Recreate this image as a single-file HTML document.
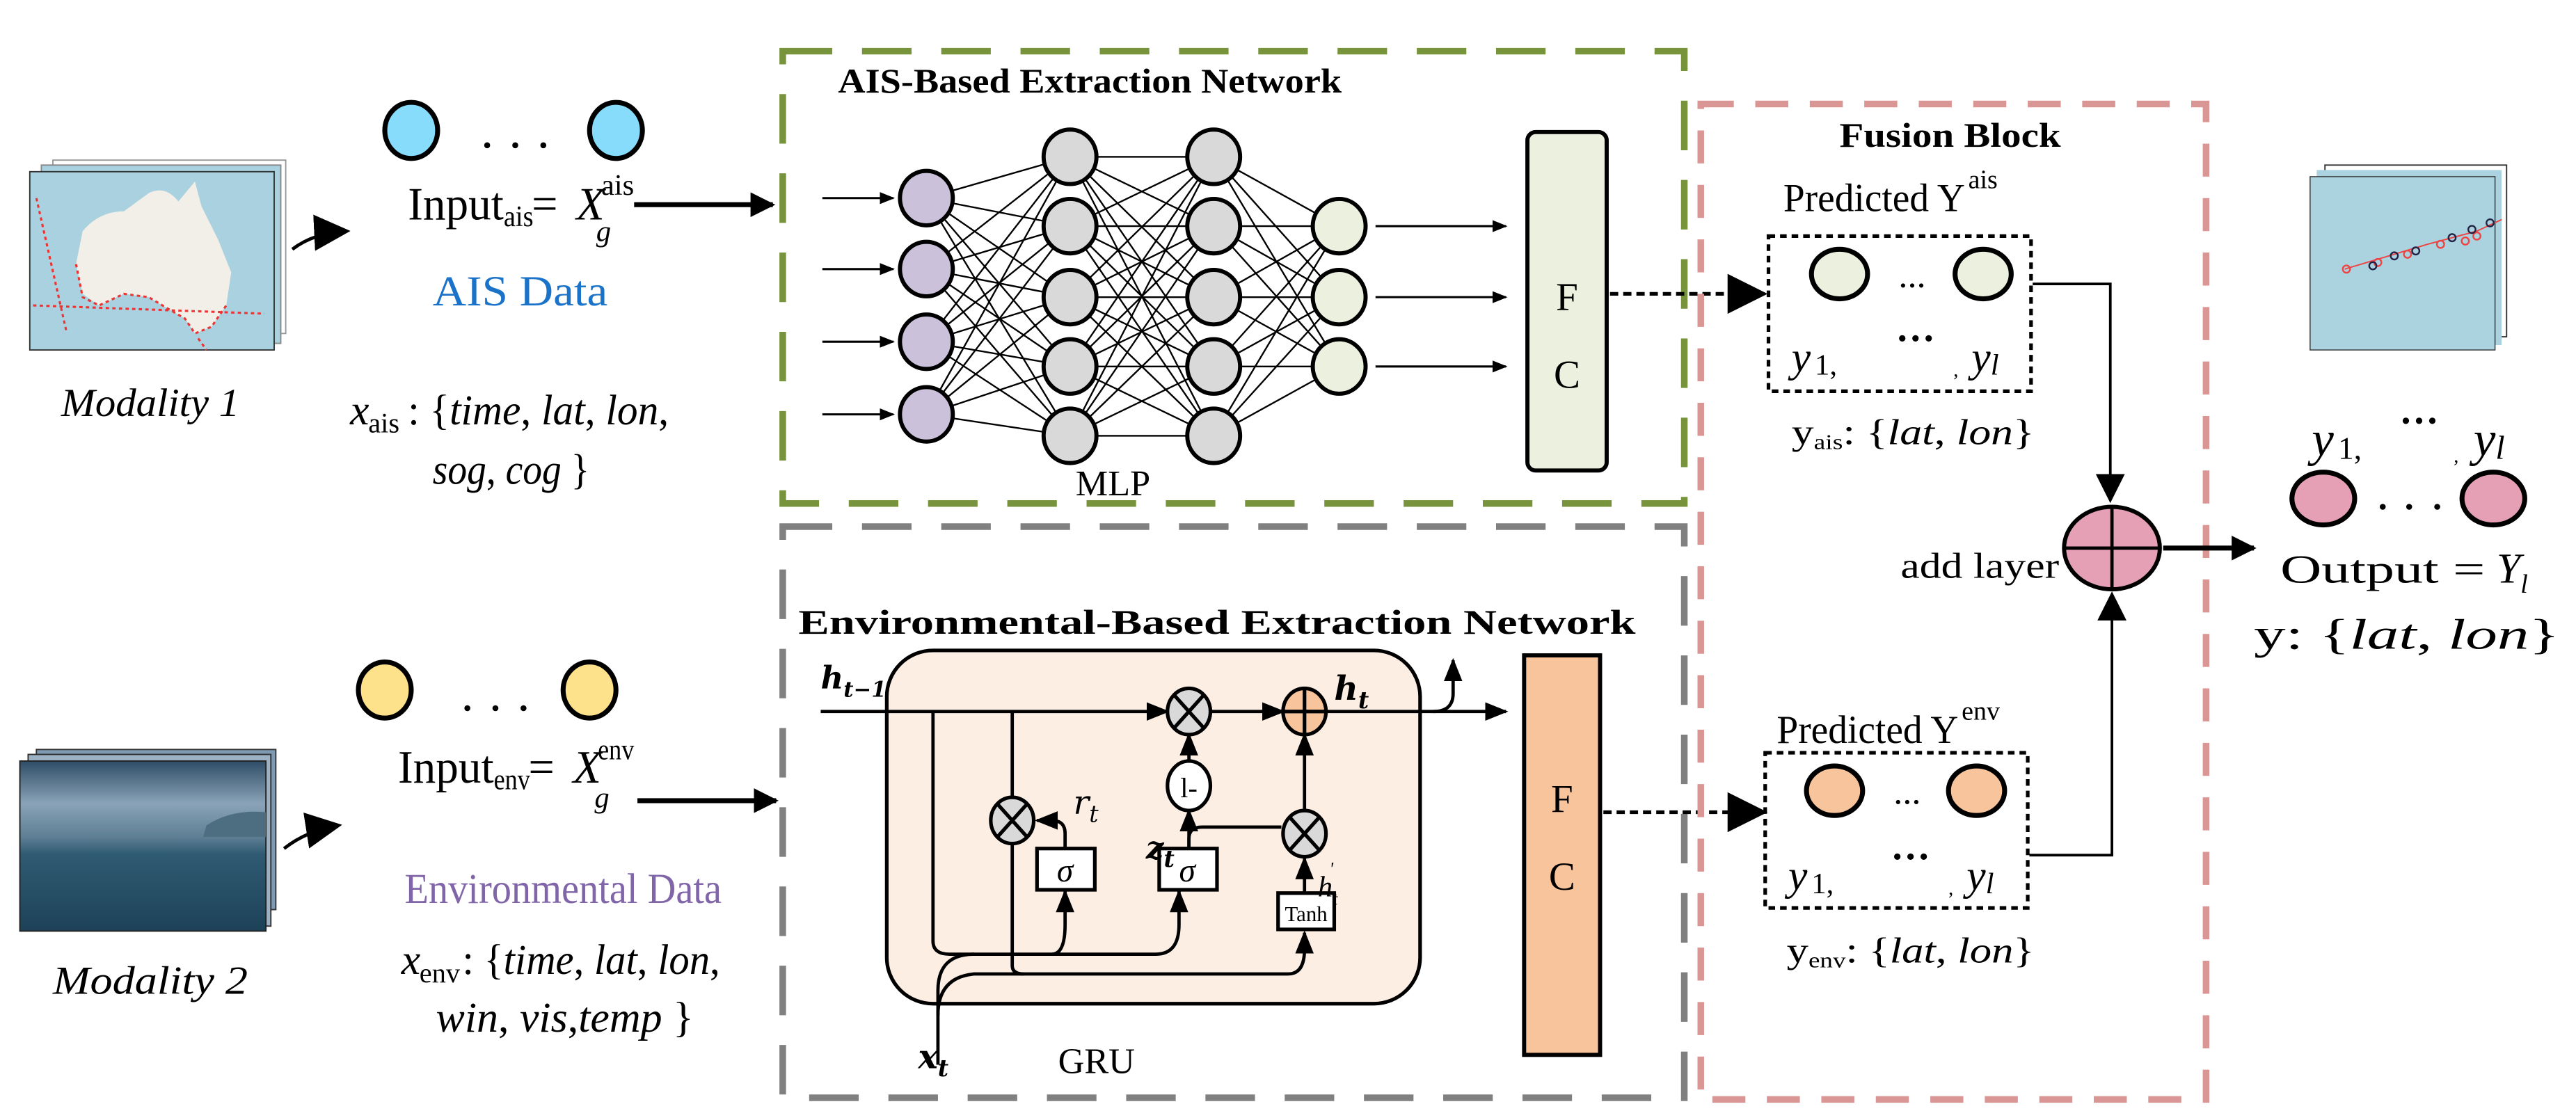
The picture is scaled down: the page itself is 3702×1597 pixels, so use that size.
<!DOCTYPE html>
<html><head><meta charset="utf-8"><style>
html,body{margin:0;padding:0;background:#fff}
svg{display:block}
</style></head><body>
<svg width="3702" height="1597" viewBox="0 0 1560 673" xmlns="http://www.w3.org/2000/svg" font-family="'Liberation Serif','DejaVu Serif',serif">
<defs>
<marker id="ah" viewBox="0 0 10 10" refX="9" refY="5" markerWidth="5" markerHeight="5" orient="auto" markerUnits="strokeWidth"><path d="M0,0 L10,5 L0,10 z" fill="#000"/></marker>
<marker id="ahs" viewBox="0 0 10 10" refX="9" refY="5" markerWidth="7" markerHeight="7" orient="auto" markerUnits="strokeWidth"><path d="M0,1 L10,5 L0,9 z" fill="#000"/></marker>
<marker id="ahb" viewBox="0 0 10 10" refX="9" refY="5" markerWidth="11" markerHeight="11" orient="auto" markerUnits="strokeWidth"><path d="M0,0 L10,5 L0,10 z" fill="#000"/></marker>
<linearGradient id="sea" x1="0" y1="0" x2="0" y2="1"><stop offset="0" stop-color="#2e4d66"/><stop offset="0.25" stop-color="#8aa3b8"/><stop offset="0.45" stop-color="#5d7e93"/><stop offset="0.55" stop-color="#2f5a72"/><stop offset="1" stop-color="#1d4258"/></linearGradient>
</defs>

<!-- ===== Modality 1 map ===== -->
<rect x="32" y="97" width="141" height="105" fill="#fff" stroke="#999" stroke-width="0.8"/>
<rect x="25" y="100" width="145" height="108" fill="#a9d1df" stroke="#888" stroke-width="0.8"/>
<rect x="18" y="104" width="148" height="108" fill="#a9d1df" stroke="#333" stroke-width="0.8"/>
<path d="M50,140 Q60,128 75,128 L90,117 Q100,112 108,122 L118,110 L122,125 L132,145 L140,165 L137,185 L128,198 L118,202 L112,193 L100,186 L90,180 L75,178 L60,185 L50,178 L46,160 Z" fill="#f1efe7"/>
<path d="M46,160 L50,180 L60,185 L75,178 L90,180 L100,186 L112,193 L118,202 L128,198 L137,185 M20,185 L160,190 M22,120 L40,200 M120,205 L125,212" stroke="#e33" stroke-width="1.3" stroke-dasharray="2 2" fill="none"/>
<text x="37" y="252" font-size="24" font-style="italic" textLength="108" lengthAdjust="spacingAndGlyphs">Modality 1</text>
<path d="M177,151 Q190,141 210,140" stroke="#000" stroke-width="2" fill="none" marker-end="url(#ahb)"/>

<!-- AIS input -->
<ellipse cx="249" cy="79" rx="16" ry="17" fill="#87dcfc" stroke="#000" stroke-width="3"/>
<ellipse cx="373" cy="79" rx="16" ry="17" fill="#87dcfc" stroke="#000" stroke-width="3"/>
<circle cx="295" cy="88" r="1.8"/><circle cx="312" cy="88" r="1.8"/><circle cx="329" cy="88" r="1.8"/>
<text x="247" y="133" font-size="28" textLength="58" lengthAdjust="spacingAndGlyphs">Input</text>
<text x="305" y="137" font-size="18" textLength="18" lengthAdjust="spacingAndGlyphs">ais</text>
<text x="322" y="133" font-size="28">=</text>
<text x="349" y="133" font-size="28" font-style="italic">X</text>
<text x="364" y="118" font-size="18" textLength="20" lengthAdjust="spacingAndGlyphs">ais</text>
<text x="361" y="146" font-size="18" font-style="italic">g</text>
<line x1="384" y1="124" x2="468" y2="124" stroke="#000" stroke-width="3" marker-end="url(#ah)"/>
<text x="262" y="185" font-size="26" fill="#1a73c8" textLength="106" lengthAdjust="spacingAndGlyphs">AIS Data</text>
<text x="212" y="257" font-size="26" font-style="italic">x</text>
<text x="223" y="262" font-size="17">ais</text>
<text x="247" y="257" font-size="26" textLength="158" lengthAdjust="spacingAndGlyphs">: {<tspan font-style="italic">time</tspan>, <tspan font-style="italic">lat</tspan>, <tspan font-style="italic">lon</tspan>,</text>
<text x="262" y="293" font-size="26" textLength="95" lengthAdjust="spacingAndGlyphs"><tspan font-style="italic">sog</tspan>, <tspan font-style="italic">cog</tspan> }</text>

<!-- ===== Modality 2 sea ===== -->
<rect x="22" y="454" width="145" height="97" fill="#7f9bb4" stroke="#333" stroke-width="0.8"/>
<rect x="17" y="457" width="147" height="104" fill="#9db1c4" stroke="#333" stroke-width="0.8"/>
<rect x="12" y="461" width="149" height="103" fill="url(#sea)" stroke="#222" stroke-width="0.8"/>
<path d="M125,500 Q140,490 161,492 L161,507 L123,507 Z" fill="#4d6d80"/>
<text x="32" y="602" font-size="24" font-style="italic" textLength="118" lengthAdjust="spacingAndGlyphs">Modality 2</text>
<path d="M172,514 Q186,503 205,500" stroke="#000" stroke-width="2" fill="none" marker-end="url(#ahb)"/>

<!-- ENV input -->
<ellipse cx="233" cy="418" rx="16" ry="17" fill="#fde18b" stroke="#000" stroke-width="3"/>
<ellipse cx="357" cy="418" rx="16" ry="17" fill="#fde18b" stroke="#000" stroke-width="3"/>
<circle cx="283" cy="429" r="1.8"/><circle cx="300" cy="429" r="1.8"/><circle cx="317" cy="429" r="1.8"/>
<text x="241" y="474" font-size="28" textLength="58" lengthAdjust="spacingAndGlyphs">Input</text>
<text x="299" y="478" font-size="18" textLength="22" lengthAdjust="spacingAndGlyphs">env</text>
<text x="320" y="474" font-size="28">=</text>
<text x="347" y="474" font-size="28" font-style="italic">X</text>
<text x="362" y="460" font-size="18" textLength="22" lengthAdjust="spacingAndGlyphs">env</text>
<text x="360" y="489" font-size="18" font-style="italic">g</text>
<line x1="386" y1="485" x2="470" y2="485" stroke="#000" stroke-width="3" marker-end="url(#ah)"/>
<text x="245" y="547" font-size="26" fill="#8066a8" textLength="192" lengthAdjust="spacingAndGlyphs">Environmental Data</text>
<text x="243" y="590" font-size="26" font-style="italic">x</text>
<text x="254" y="595" font-size="17">env</text>
<text x="280" y="590" font-size="26" textLength="156" lengthAdjust="spacingAndGlyphs">: {<tspan font-style="italic">time</tspan>, <tspan font-style="italic">lat</tspan>, <tspan font-style="italic">lon</tspan>,</text>
<text x="264" y="625" font-size="26" textLength="156" lengthAdjust="spacingAndGlyphs"><tspan font-style="italic">win</tspan>, <tspan font-style="italic">vis</tspan>,<tspan font-style="italic">temp</tspan> }</text>

<!-- ===== AIS green box ===== -->
<rect x="474" y="31" width="546" height="274" fill="none" stroke="#77933c" stroke-width="4" stroke-dasharray="30 18"/>
<text x="660" y="56" font-size="21" font-weight="bold" text-anchor="middle" textLength="305" lengthAdjust="spacingAndGlyphs">AIS-Based Extraction Network</text>
<g stroke="#000" stroke-width="1">
<path d="M561,120L648,95M561,120L648,137M561,120L648,180M561,120L648,222M561,120L648,264M561,163L648,95M561,163L648,137M561,163L648,180M561,163L648,222M561,163L648,264M561,207L648,95M561,207L648,137M561,207L648,180M561,207L648,222M561,207L648,264M561,251L648,95M561,251L648,137M561,251L648,180M561,251L648,222M561,251L648,264
M648,95L735,95M648,95L735,137M648,95L735,180M648,95L735,222M648,95L735,264M648,137L735,95M648,137L735,137M648,137L735,180M648,137L735,222M648,137L735,264M648,180L735,95M648,180L735,137M648,180L735,180M648,180L735,222M648,180L735,264M648,222L735,95M648,222L735,137M648,222L735,180M648,222L735,222M648,222L735,264M648,264L735,95M648,264L735,137M648,264L735,180M648,264L735,222M648,264L735,264
M735,95L811,137M735,95L811,180M735,95L811,222M735,137L811,137M735,137L811,180M735,137L811,222M735,180L811,137M735,180L811,180M735,180L811,222M735,222L811,137M735,222L811,180M735,222L811,222M735,264L811,137M735,264L811,180M735,264L811,222"/>
</g>
<g stroke="#000" stroke-width="2.5">
<ellipse cx="561" cy="120" rx="16" ry="16.5" fill="#ccc1da"/>
<ellipse cx="561" cy="163" rx="16" ry="16.5" fill="#ccc1da"/>
<ellipse cx="561" cy="207" rx="16" ry="16.5" fill="#ccc1da"/>
<ellipse cx="561" cy="251" rx="16" ry="16.5" fill="#ccc1da"/>
<ellipse cx="648" cy="95" rx="16" ry="16.5" fill="#d9d9d9"/>
<ellipse cx="648" cy="137" rx="16" ry="16.5" fill="#d9d9d9"/>
<ellipse cx="648" cy="180" rx="16" ry="16.5" fill="#d9d9d9"/>
<ellipse cx="648" cy="222" rx="16" ry="16.5" fill="#d9d9d9"/>
<ellipse cx="648" cy="264" rx="16" ry="16.5" fill="#d9d9d9"/>
<ellipse cx="735" cy="95" rx="16" ry="16.5" fill="#d9d9d9"/>
<ellipse cx="735" cy="137" rx="16" ry="16.5" fill="#d9d9d9"/>
<ellipse cx="735" cy="180" rx="16" ry="16.5" fill="#d9d9d9"/>
<ellipse cx="735" cy="222" rx="16" ry="16.5" fill="#d9d9d9"/>
<ellipse cx="735" cy="264" rx="16" ry="16.5" fill="#d9d9d9"/>
<ellipse cx="811" cy="137" rx="16" ry="16.5" fill="#ebf1de"/>
<ellipse cx="811" cy="180" rx="16" ry="16.5" fill="#ebf1de"/>
<ellipse cx="811" cy="222" rx="16" ry="16.5" fill="#ebf1de"/>
</g>
<g stroke="#000" stroke-width="1.3" marker-end="url(#ahs)">
<line x1="498" y1="120" x2="541" y2="120"/><line x1="498" y1="163" x2="541" y2="163"/>
<line x1="498" y1="207" x2="541" y2="207"/><line x1="498" y1="251" x2="541" y2="251"/>
<line x1="833" y1="137" x2="912" y2="137"/><line x1="833" y1="180" x2="912" y2="180"/><line x1="833" y1="222" x2="912" y2="222"/>
</g>
<text x="674" y="300" font-size="22" text-anchor="middle">MLP</text>
<rect x="925" y="80" width="48" height="205" rx="5" fill="#ebf1de" stroke="#000" stroke-width="2.5"/>
<text x="949" y="188" font-size="24" text-anchor="middle">F</text>
<text x="949" y="235" font-size="24" text-anchor="middle">C</text>
<line x1="975" y1="178" x2="1068" y2="178" stroke="#000" stroke-width="2.2" stroke-dasharray="5 3" marker-end="url(#ahb)"/>

<!-- ===== ENV gray box ===== -->
<rect x="474" y="319" width="546" height="346" fill="none" stroke="#808080" stroke-width="4" stroke-dasharray="30 18"/>
<text x="737" y="384" font-size="21" font-weight="bold" text-anchor="middle" textLength="507" lengthAdjust="spacingAndGlyphs">Environmental-Based Extraction Network</text>
<rect x="537" y="394" width="323" height="214" rx="28" fill="#fdeee4" stroke="#000" stroke-width="2.2"/>
<g stroke="#000" stroke-width="2" fill="none">
<line x1="497" y1="431" x2="707" y2="431" marker-end="url(#ahs)"/>
<line x1="733" y1="431" x2="777" y2="431" marker-end="url(#ahs)"/>
<line x1="803" y1="431" x2="912" y2="431" marker-end="url(#ahs)"/>
<path d="M868,431 Q880,431 880,420 L880,400" marker-end="url(#ahs)"/>
<path d="M565,431 L565,570 Q565,578 575,578 L637,578 Q645,578 645,560 L645,540" marker-end="url(#ahs)"/>
<path d="M637,578 L700,578 Q714,578 714,560 L714,540" marker-end="url(#ahs)"/>
<line x1="613" y1="431" x2="613" y2="484"/>
<path d="M613,510 L613,585 Q613,590 620,590 L780,590 Q790,590 790,575 L790,565" marker-end="url(#ahs)"/>
<path d="M568,645 L568,600 Q568,578 590,578"/>
<path d="M568,615 Q568,592 590,590 L620,590"/>
<path d="M645,513 L645,505 Q645,497 637,497 L628,497" marker-end="url(#ahs)"/>
<line x1="720" y1="461" x2="720" y2="445" marker-end="url(#ahs)"/>
<line x1="720" y1="513" x2="720" y2="491" marker-end="url(#ahs)"/>
<path d="M720,513 L720,508 Q720,501 728,501 L776,501"/>
<line x1="790" y1="541" x2="790" y2="520" marker-end="url(#ahs)"/>
<line x1="790" y1="490" x2="790" y2="445" marker-end="url(#ahs)"/>
</g>
<g stroke="#000" stroke-width="2.2">
<ellipse cx="720" cy="431" rx="13" ry="14" fill="#d9d9d9"/>
<path d="M711,421 L729,441 M729,421 L711,441"/>
<ellipse cx="790" cy="431" rx="13" ry="14" fill="#f8c49c"/>
<path d="M777,431 L803,431 M790,417 L790,445"/>
<ellipse cx="613" cy="497" rx="13" ry="14" fill="#d9d9d9"/>
<path d="M604,487 L622,507 M622,487 L604,507"/>
<ellipse cx="790" cy="505" rx="13" ry="14" fill="#d9d9d9"/>
<path d="M781,495 L799,515 M799,495 L781,515"/>
<ellipse cx="720" cy="476" rx="13" ry="15" fill="#fff"/>
<rect x="628" y="514" width="35" height="25" fill="#fff"/>
<rect x="702" y="514" width="35" height="25" fill="#fff"/>
<rect x="774" y="541" width="34" height="22" fill="#fff"/>
</g>
<text x="720" y="483" font-size="17" text-anchor="middle">l-</text>
<text x="645" y="534" font-size="20" font-style="italic" text-anchor="middle">σ</text>
<text x="719" y="534" font-size="20" font-style="italic" text-anchor="middle">σ</text>
<text x="791" y="558" font-size="13" text-anchor="middle">Tanh</text>
<text x="497" y="417" font-size="19" font-style="italic" font-weight="bold" font-family="'DejaVu Serif',serif">h<tspan font-size="13" dy="5">t−1</tspan></text>
<text x="808" y="424" font-size="20" font-style="italic" font-weight="bold" font-family="'DejaVu Serif',serif">h<tspan font-size="14" dy="5">t</tspan></text>
<text x="650" y="493" font-size="20" font-style="italic" font-family="'DejaVu Serif',serif">r<tspan font-size="14" dy="5">t</tspan></text>
<text x="694" y="520" font-size="19" font-style="italic" font-weight="bold" font-family="'DejaVu Serif',serif">z<tspan font-size="14" dy="5">t</tspan></text>
<text x="798" y="543" font-size="18" font-style="italic">h<tspan font-size="11" dy="5">t</tspan><tspan font-size="11" dx="-5" dy="-18">'</tspan></text>
<text x="556" y="647" font-size="20" font-style="italic" font-weight="bold" font-family="'DejaVu Serif',serif">x<tspan font-size="14" dy="5">t</tspan></text>
<text x="664" y="650" font-size="22" text-anchor="middle">GRU</text>
<rect x="923" y="397" width="46" height="242" fill="#f8c49c" stroke="#000" stroke-width="2.5"/>
<text x="946" y="492" font-size="24" text-anchor="middle">F</text>
<text x="946" y="539" font-size="24" text-anchor="middle">C</text>
<line x1="971" y1="492" x2="1068" y2="492" stroke="#000" stroke-width="2.2" stroke-dasharray="5 3" marker-end="url(#ahb)"/>

<!-- ===== Fusion block ===== -->
<rect x="1030" y="63" width="306" height="603" fill="none" stroke="#d99694" stroke-width="4" stroke-dasharray="20 13"/>
<text x="1181" y="89" font-size="21" font-weight="bold" text-anchor="middle" textLength="134" lengthAdjust="spacingAndGlyphs">Fusion Block</text>
<text x="1080" y="128" font-size="24" textLength="110" lengthAdjust="spacingAndGlyphs">Predicted Y</text>
<text x="1192" y="114" font-size="16">ais</text>
<rect x="1071" y="143" width="159" height="94" fill="none" stroke="#000" stroke-width="2.2" stroke-dasharray="4 3"/>
<ellipse cx="1114" cy="166" rx="17" ry="15" fill="#ebf1de" stroke="#000" stroke-width="3"/>
<ellipse cx="1201" cy="166" rx="17" ry="15" fill="#ebf1de" stroke="#000" stroke-width="3"/>
<text x="1158" y="174" font-size="22" text-anchor="middle">...</text>
<text x="1085" y="225" font-size="26" font-style="italic">y</text><text x="1099" y="227" font-size="18">1,</text>
<text x="1160" y="213" font-size="24" font-weight="bold" text-anchor="middle">···</text>
<text x="1183" y="228" font-size="12">,</text>
<text x="1194" y="225" font-size="26" font-style="italic">y<tspan font-size="18" dy="2">l</tspan></text>
<text x="1085" y="269" font-size="22" textLength="147" lengthAdjust="spacingAndGlyphs">y<tspan font-size="13" dy="3">ais</tspan><tspan dy="-3">: {</tspan><tspan font-style="italic">lat</tspan>, <tspan font-style="italic">lon</tspan>}</text>
<path d="M1231,172 L1278,172 L1278,303" stroke="#000" stroke-width="1.6" fill="none" marker-end="url(#ahb)"/>
<text x="1076" y="450" font-size="24" textLength="110" lengthAdjust="spacingAndGlyphs">Predicted Y</text>
<text x="1188" y="436" font-size="16">env</text>
<rect x="1069" y="456" width="159" height="94" fill="none" stroke="#000" stroke-width="2.2" stroke-dasharray="4 3"/>
<ellipse cx="1111" cy="479" rx="17" ry="15" fill="#f8c49c" stroke="#000" stroke-width="3"/>
<ellipse cx="1197" cy="479" rx="17" ry="15" fill="#f8c49c" stroke="#000" stroke-width="3"/>
<text x="1155" y="487" font-size="22" text-anchor="middle">...</text>
<text x="1083" y="539" font-size="26" font-style="italic">y</text><text x="1097" y="541" font-size="18">1,</text>
<text x="1157" y="527" font-size="24" font-weight="bold" text-anchor="middle">···</text>
<text x="1180" y="542" font-size="12">,</text>
<text x="1191" y="539" font-size="26" font-style="italic">y<tspan font-size="18" dy="2">l</tspan></text>
<text x="1082" y="583" font-size="22" textLength="150" lengthAdjust="spacingAndGlyphs">y<tspan font-size="13" dy="3">env</tspan><tspan dy="-3">: {</tspan><tspan font-style="italic">lat</tspan>, <tspan font-style="italic">lon</tspan>}</text>
<path d="M1229,518 L1279,518 L1279,360" stroke="#000" stroke-width="1.6" fill="none" marker-end="url(#ahb)"/>
<ellipse cx="1279" cy="332" rx="29" ry="25" fill="#e6a0b6" stroke="#000" stroke-width="2.5"/>
<path d="M1250,332 L1308,332 M1279,307 L1279,357" stroke="#000" stroke-width="2"/>
<text x="1247" y="350" font-size="22" text-anchor="end" textLength="96" lengthAdjust="spacingAndGlyphs">add layer</text>
<line x1="1310" y1="332" x2="1365" y2="332" stroke="#000" stroke-width="3" marker-end="url(#ah)"/>

<!-- ===== Output ===== -->
<rect x="1408" y="100" width="110" height="104" fill="#fff" stroke="#333" stroke-width="0.8"/>
<rect x="1403" y="103" width="112" height="106" fill="#aad3df"/>
<rect x="1399" y="107" width="112" height="105" fill="#aad3df" stroke="#333" stroke-width="0.6"/>
<path d="M1420,163 L1440,157 L1470,148 L1500,140 L1515,133" stroke="#e44" stroke-width="0.8" fill="none"/>
<g fill="none" stroke="#e44" stroke-width="1"><circle cx="1421" cy="163" r="2.2"/><circle cx="1440" cy="159" r="2.2"/><circle cx="1458" cy="154" r="2.2"/><circle cx="1478" cy="148" r="2.2"/><circle cx="1493" cy="146" r="2.2"/><circle cx="1500" cy="143" r="2.2"/></g>
<g fill="none" stroke="#224" stroke-width="1"><circle cx="1437" cy="161" r="2.2"/><circle cx="1450" cy="155" r="2.2"/><circle cx="1463" cy="152" r="2.2"/><circle cx="1485" cy="144" r="2.2"/><circle cx="1497" cy="139" r="2.2"/><circle cx="1508" cy="135" r="2.2"/></g>
<text x="1400" y="276" font-size="30" font-style="italic">y</text><text x="1416" y="278" font-size="19">1,</text>
<text x="1465" y="263" font-size="24" font-weight="bold" text-anchor="middle">···</text>
<text x="1486" y="280" font-size="12">,</text>
<text x="1498" y="276" font-size="30" font-style="italic">y<tspan font-size="20" dy="2">l</tspan></text>
<ellipse cx="1407" cy="302" rx="19" ry="16" fill="#e6a0b6" stroke="#000" stroke-width="3"/>
<ellipse cx="1510" cy="302" rx="19" ry="16" fill="#e6a0b6" stroke="#000" stroke-width="3"/>
<circle cx="1443" cy="307" r="1.8"/><circle cx="1459" cy="307" r="1.8"/><circle cx="1476" cy="307" r="1.8"/>
<text x="1381" y="353" font-size="24" textLength="124" lengthAdjust="spacingAndGlyphs">Output =</text>
<text x="1512" y="353" font-size="26" font-style="italic">Y<tspan font-size="16" dy="6">l</tspan></text>
<text x="1365" y="393" font-size="26" textLength="185" lengthAdjust="spacingAndGlyphs">y: {<tspan font-style="italic">lat</tspan>, <tspan font-style="italic">lon</tspan>}</text>
</svg>
</body></html>
